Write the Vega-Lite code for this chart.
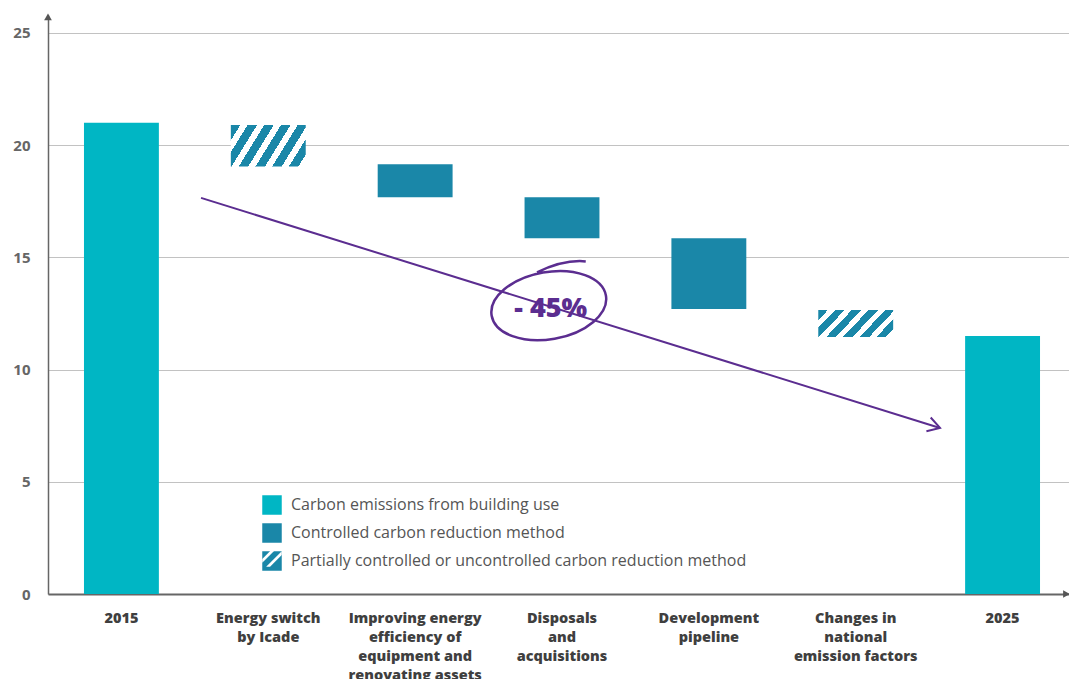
{
  "$schema": "https://vega.github.io/schema/vega-lite/v6.json",
  "width": 1028,
  "height": 579,
  "autosize": {"type": "none"},
  "padding": {"left": 48, "top": 15, "right": 0, "bottom": 85},
  "config": {"view": {"stroke": null}, "font": "Open Sans"},
  "datasets": {
    "bars": [
      {"category": "2015", "start": 0, "end": 21.0, "type": "Carbon emissions from building use"},
      {"category": "Energy switch|by Icade", "start": 19.05, "end": 20.9, "type": "Partially controlled or uncontrolled carbon reduction method"},
      {"category": "Improving energy|efficiency of|equipment and|renovating assets", "start": 17.68, "end": 19.15, "type": "Controlled carbon reduction method"},
      {"category": "Disposals|and|acquisitions", "start": 15.85, "end": 17.68, "type": "Controlled carbon reduction method"},
      {"category": "Development|pipeline", "start": 12.7, "end": 15.85, "type": "Controlled carbon reduction method"},
      {"category": "Changes in|national|emission factors", "start": 11.45, "end": 12.65, "type": "Partially controlled or uncontrolled carbon reduction method"},
      {"category": "2025", "start": 0, "end": 11.5, "type": "Carbon emissions from building use"}
    ],
    "trend": [
      {"x": 1.042, "y": 17.65},
      {"x": 6.074, "y": 7.4}
    ],
    "trendEnd": [
      {"x": 6.074, "y": 7.4}
    ],
    "note": [
      {"x": 3.41, "y": 12.85, "label": "- 45%"}
    ],
    "axisArrows": [
      {"x": 0, "y": 25.72, "dir": "up"},
      {"x": 6.935, "y": 0, "dir": "right"}
    ]
  },
  "layer": [
    {
      "layer": [
        {
          "data": {"name": "bars"},
          "mark": {"type": "bar"},
          "encoding": {
            "x": {
              "field": "category",
              "type": "nominal",
              "sort": null,
              "scale": {"paddingInner": 0.49, "paddingOuter": 0.245},
              "axis": {
                "title": null,
                "labelExpr": "split(datum.label, '|')",
                "labelAngle": 0,
                "labelFont": "Open Sans",
                "labelFontSize": 14.5,
                "labelFontWeight": 800,
                "labelColor": "#3f3f3f",
                "labelLineHeight": 19,
                "labelBaseline": "top",
                "labelPadding": 17,
                "labelLimit": 220,
                "ticks": false,
                "domainColor": "#666666",
                "domainWidth": 2,
                "grid": false
              }
            },
            "y": {
              "field": "start",
              "type": "quantitative",
              "scale": {"domain": [0, 25.8], "nice": false, "zero": true},
              "axis": {
                "title": null,
                "values": [0, 5, 10, 15, 20, 25],
                "grid": true,
                "gridColor": "#c2c2c2",
                "gridWidth": 1,
                "ticks": false,
                "labelPadding": 18,
                "labelFont": "Open Sans",
                "labelFontSize": 15,
                "labelFontWeight": "bold",
                "labelColor": "#666666",
                "domainColor": "#666666",
                "domainWidth": 1.5
              }
            },
            "y2": {"field": "end"},
            "fill": {
              "condition": {
                "test": "datum.type === 'Partially controlled or uncontrolled carbon reduction method'",
                "value": {
                  "gradient": "linear",
                  "x1": 0, "y1": 0, "x2": 1.2, "y2": 0.41,
                  "stops": [
                    {"offset": 0, "color": "#1a87a8"},
                    {"offset": 0.095, "color": "#1a87a8"},
                    {"offset": 0.095, "color": "#ffffff"},
                    {"offset": 0.1667, "color": "#ffffff"},
                    {"offset": 0.1667, "color": "#1a87a8"},
                    {"offset": 0.2617, "color": "#1a87a8"},
                    {"offset": 0.2617, "color": "#ffffff"},
                    {"offset": 0.3333, "color": "#ffffff"},
                    {"offset": 0.3333, "color": "#1a87a8"},
                    {"offset": 0.4283, "color": "#1a87a8"},
                    {"offset": 0.4283, "color": "#ffffff"},
                    {"offset": 0.5, "color": "#ffffff"},
                    {"offset": 0.5, "color": "#1a87a8"},
                    {"offset": 0.595, "color": "#1a87a8"},
                    {"offset": 0.595, "color": "#ffffff"},
                    {"offset": 0.6667, "color": "#ffffff"},
                    {"offset": 0.6667, "color": "#1a87a8"},
                    {"offset": 0.7617, "color": "#1a87a8"},
                    {"offset": 0.7617, "color": "#ffffff"},
                    {"offset": 0.8333, "color": "#ffffff"},
                    {"offset": 0.8333, "color": "#1a87a8"},
                    {"offset": 0.9283, "color": "#1a87a8"},
                    {"offset": 0.9283, "color": "#ffffff"},
                    {"offset": 1, "color": "#ffffff"}
                  ]
                }
              },
              "field": "type",
              "type": "nominal",
              "scale": {
                "domain": [
                  "Carbon emissions from building use",
                  "Controlled carbon reduction method",
                  "Partially controlled or uncontrolled carbon reduction method"
                ],
                "range": ["#00b6c4", "#1a87a8", "#1a87a8"]
              },
              "legend": {
                "title": null,
                "orient": "none",
                "legendX": 214,
                "legendY": 480,
                "padding": 0,
                "symbolType": "square",
                "symbolSize": 380,
                "symbolStrokeWidth": 0,
                "symbolOpacity": 1,
                "labelFont": "Open Sans",
                "labelFontSize": 16,
                "labelColor": "#555555",
                "labelOffset": 9,
                "labelLimit": 600,
                "rowPadding": 8
              }
            }
          }
        },
        {
          "data": {"name": "bars"},
          "mark": {"type": "point", "filled": true, "opacity": 0},
          "encoding": {
            "x": {"field": "category", "type": "nominal", "sort": null},
            "y": {"field": "start", "type": "quantitative"},
            "fill": {
              "field": "type",
              "type": "nominal",
              "scale": {
                "domain": [
                  "Carbon emissions from building use",
                  "Controlled carbon reduction method",
                  "Partially controlled or uncontrolled carbon reduction method"
                ],
                "range": ["#00b6c4", "#1a87a8", "#1a87a8"]
              },
              "legend": {
                "title": null,
                "orient": "none",
                "legendX": 214,
                "legendY": 480,
                "padding": 0,
                "symbolType": "square",
                "symbolSize": 380,
                "symbolStrokeWidth": 0,
                "symbolOpacity": 1,
                "labelFont": "Open Sans",
                "labelFontSize": 16,
                "labelColor": "#555555",
                "labelOffset": 9,
                "labelLimit": 600,
                "rowPadding": 8
              }
            },
            "shape": {
              "field": "type",
              "type": "nominal",
              "scale": {
                "domain": [
                  "Carbon emissions from building use",
                  "Controlled carbon reduction method",
                  "Partially controlled or uncontrolled carbon reduction method"
                ],
                "range": [
                  "M 0 0 Z",
                  "M 0 0 Z",
                  "M 0.2 -1 L 0.6 -1 L -1 0.6 L -1 0.2 Z M 1 -0.6 L 1 -0.2 L -0.2 1 L -0.6 1 Z"
                ]
              },
              "legend": {
                "title": null,
                "orient": "none",
                "legendX": 214,
                "legendY": 480,
                "padding": 0,
                "symbolSize": 380,
                "symbolStrokeWidth": 0,
                "symbolOpacity": 1,
                "symbolFillColor": "#ffffff",
                "labelFont": "Open Sans",
                "labelFontSize": 16,
                "labelColor": "#555555",
                "labelOpacity": 0,
                "labelOffset": 9,
                "labelLimit": 600,
                "rowPadding": 8
              }
            }
          }
        }
      ]
    },
    {
      "layer": [
        {
          "data": {"name": "trend"},
          "mark": {"type": "line", "color": "#5b2d90", "strokeWidth": 2},
          "encoding": {
            "x": {"field": "x", "type": "quantitative", "scale": {"domain": [0, 7], "nice": false, "zero": false}, "axis": null},
            "y": {"field": "y", "type": "quantitative", "title": null}
          }
        },
        {
          "data": {"name": "trendEnd"},
          "mark": {"type": "point", "shape": "M -1 -0.6 L 0 0 L -1 0.6", "filled": false, "color": "#5b2d90", "strokeWidth": 2, "size": 576, "angle": 17.3, "opacity": 1},
          "encoding": {
            "x": {"field": "x", "type": "quantitative", "scale": {"domain": [0, 7], "nice": false, "zero": false}, "axis": null},
            "y": {"field": "y", "type": "quantitative", "title": null}
          }
        },
        {
          "data": {"name": "note"},
          "mark": {"type": "point", "shape": "M -1 0 A 1 0.58 0 1 1 1 0 A 1 0.58 0 1 1 -1 0 M -0.1 -0.6 Q 0.4 -0.74 0.76 -0.64", "filled": false, "color": "#5b2d90", "strokeWidth": 2.5, "size": 13456, "angle": -10, "opacity": 1},
          "encoding": {
            "x": {"field": "x", "type": "quantitative", "scale": {"domain": [0, 7], "nice": false, "zero": false}, "axis": null},
            "y": {"field": "y", "type": "quantitative", "title": null}
          }
        },
        {
          "data": {"name": "note"},
          "mark": {"type": "text", "font": "Open Sans", "fontSize": 27, "fontWeight": 800, "color": "#5b2d90", "align": "center", "baseline": "middle", "dy": 3, "dx": 2},
          "encoding": {
            "x": {"field": "x", "type": "quantitative", "scale": {"domain": [0, 7], "nice": false, "zero": false}, "axis": null},
            "y": {"field": "y", "type": "quantitative", "title": null},
            "text": {"field": "label"}
          }
        },
        {
          "data": {"name": "axisArrows"},
          "mark": {"type": "point", "filled": true, "color": "#555555", "size": 60, "opacity": 1},
          "encoding": {
            "x": {"field": "x", "type": "quantitative", "scale": {"domain": [0, 7], "nice": false, "zero": false}, "axis": null},
            "y": {"field": "y", "type": "quantitative", "title": null},
            "shape": {"field": "dir", "type": "nominal", "scale": {"domain": ["up", "right"], "range": ["triangle-up", "triangle-right"]}, "legend": null}
          }
        }
      ],
      "resolve": {"scale": {"shape": "independent"}}
    }
  ],
  "resolve": {"scale": {"x": "independent", "shape": "independent"}, "axis": {"x": "independent"}}
}
